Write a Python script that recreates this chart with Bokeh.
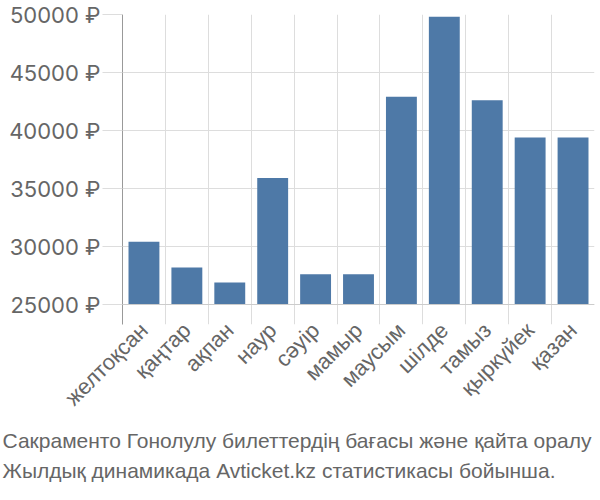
from bokeh.plotting import figure
from bokeh.models import Range1d, FactorRange, FixedTicker, Title, Span, CustomJSTickFormatter
from bokeh.embed import file_html
from bokeh.resources import INLINE
import math

months = ["желтоқсан", "қаңтар", "ақпан", "наур", "сәуір", "мамыр",
          "маусым", "шілде", "тамыз", "қыркүйек", "қазан"]
prices = [30400, 28200, 26900, 35900, 27600, 27600,
          42900, 49800, 42600, 39400, 39400]
y_ticks = [25000, 30000, 35000, 40000, 45000, 50000]
title_lines = ["Сакраменто Гонолулу билеттердің бағасы және қайта оралу",
               "Жылдық динамикада Avticket.kz статистикасы бойынша."]

FONT = "Liberation Sans"
TXT = "#666666"
GRID = "#dddddd"

p = figure(width=600, height=500, output_backend="svg", toolbar_location=None,
           x_range=FactorRange(factors=months, range_padding=0),
           y_range=Range1d(23276, 50000),
           min_border_left=122, min_border_right=6, min_border_top=14,
           min_border_bottom=176)
p.outline_line_color = None

p.vbar(x=months, top=prices, bottom=y_ticks[0], width=0.72,
       fill_color="#4e79a7", line_color=None)

p.xgrid.ticker = FixedTicker(ticks=list(range(len(months) + 1)))
p.xgrid.grid_line_color = GRID
p.ygrid.ticker = FixedTicker(ticks=y_ticks)
p.ygrid.grid_line_color = GRID

p.add_layout(Span(location=y_ticks[0], dimension="width", line_color="#cccccc", line_width=1))

ya = p.yaxis[0]
ya.ticker = FixedTicker(ticks=y_ticks)
ya.formatter = CustomJSTickFormatter(code="return tick + ' ₽';")
ya.axis_line_color = "#999999"
ya.major_tick_in = 0
ya.major_tick_out = 20
ya.major_tick_line_color = GRID
ya.minor_tick_line_color = None
ya.major_label_standoff = 2
ya.major_label_text_font = "Inter"
ya.major_label_text_font_size = "22px"
ya.major_label_text_color = TXT

xa = p.xaxis[0]
xa.axis_line_color = None
xa.major_tick_line_color = None
xa.major_tick_out = 0
xa.major_tick_in = 0
xa.major_label_standoff = 2
xa.major_label_orientation = math.pi / 4
xa.major_label_text_font = FONT
xa.major_label_text_font_size = "22px"
xa.major_label_text_color = TXT

for line, gap in zip(title_lines, [8, 2]):
    t = Title(text=line, align="left", offset=-120, text_font=FONT,
              text_font_size="21px", text_color=TXT, text_font_style="normal",
              standoff=gap)
    p.add_layout(t, "below")

open("out.html", "w").write(file_html(p, INLINE))
